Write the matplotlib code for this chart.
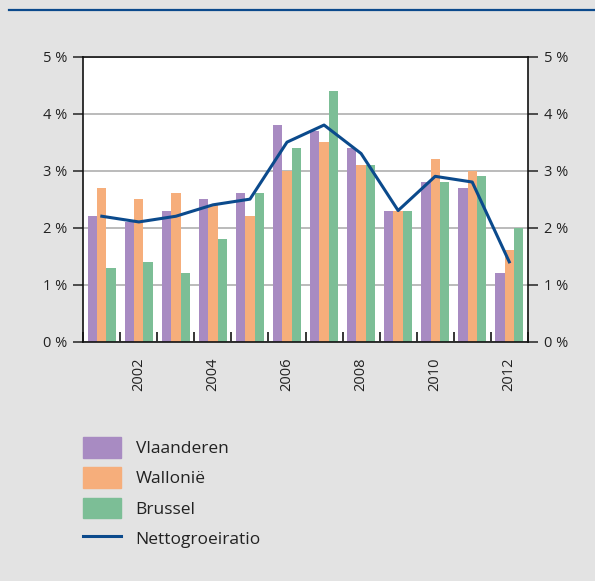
import numpy as np
import matplotlib.pyplot as plt
from matplotlib.patches import Patch
from matplotlib.lines import Line2D

plt.rcParams['font.family'] = ['Open Sans', 'DejaVu Sans']

# data (percent)
years = [2001, 2002, 2003, 2004, 2005, 2006, 2007, 2008, 2009, 2010, 2011, 2012]
vlaanderen = [2.2, 2.1, 2.3, 2.5, 2.6, 3.8, 3.7, 3.4, 2.3, 2.8, 2.7, 1.2]
wallonie = [2.7, 2.5, 2.6, 2.4, 2.2, 3.0, 3.5, 3.1, 2.3, 3.2, 3.0, 1.6]
brussel = [1.3, 1.4, 1.2, 1.8, 2.6, 3.4, 4.4, 3.1, 2.3, 2.8, 2.9, 2.0]
netto = [2.2, 2.1, 2.2, 2.4, 2.5, 3.5, 3.8, 3.3, 2.3, 2.9, 2.8, 1.4]
series_names = ['Vlaanderen', 'Wallonië', 'Brussel', 'Nettogroeiratio']
y_ticks = [0, 1, 2, 3, 4, 5]

c_vl = '#a88bc2'
c_wa = '#f6ae7b'
c_br = '#7cbe96'
c_net = '#0b4a8c'
bg = '#e3e3e3'

fig = plt.figure(figsize=(5.95, 5.81), dpi=100)
fig.patch.set_facecolor(bg)
ax = fig.add_axes([0.140, 0.412, 0.747, 0.4905])

x = np.arange(len(years))
w = 0.25
ax.bar(x - w, vlaanderen, w, color=c_vl, zorder=2)
ax.bar(x, wallonie, w, color=c_wa, zorder=2)
ax.bar(x + w, brussel, w, color=c_br, zorder=2)
ax.plot(x, netto, color=c_net, lw=2.2, zorder=3)

ax.set_xlim(-0.5, len(years) - 0.5)
ax.set_ylim(0, 5)
ax.set_yticks(y_ticks)
ax.set_yticklabels([f'{t} %' for t in y_ticks])
ax.yaxis.grid(True, color='#b5b5b5', lw=1.3, zorder=1)
ax.set_axisbelow(True)
ax.tick_params(axis='y', which='both', direction='out', length=7.5, width=1.1,
               labelsize=10.5, pad=4, left=True, right=True,
               labelleft=True, labelright=True, colors='#222222')

# even years labelled, ticks between groups
even = [i for i, y in enumerate(years) if y % 2 == 0]
ax.set_xticks(even)
ax.set_xticklabels([str(years[i]) for i in even], rotation=90)
ax.tick_params(axis='x', which='major', length=0, pad=11.5, labelsize=10.5,
               colors='#222222')
ax.set_xticks(np.arange(len(years) + 1) - 0.5, minor=True)
ax.tick_params(axis='x', which='minor', direction='in', length=7.5, width=1.1)

for s in ax.spines.values():
    s.set_linewidth(1.2)
    s.set_color('#111111')

# top rule
fig.add_artist(Line2D([9 / 595, 1], [1 - 10 / 581, 1 - 10 / 581],
                      color=c_net, lw=1.6, transform=fig.transFigure))

handles = [Patch(color=c_vl), Patch(color=c_wa), Patch(color=c_br),
           Line2D([], [], color=c_net, lw=2.2)]
fig.legend(handles, series_names, loc='upper left',
           bbox_to_anchor=(0.139, 0.248), frameon=False, fontsize=12.5,
           handlelength=2.2, handleheight=1.45, labelspacing=0.56,
           handletextpad=0.85, borderaxespad=0, borderpad=0,
           labelcolor='#222222')

fig.savefig('out.png', dpi=100, facecolor=bg)
